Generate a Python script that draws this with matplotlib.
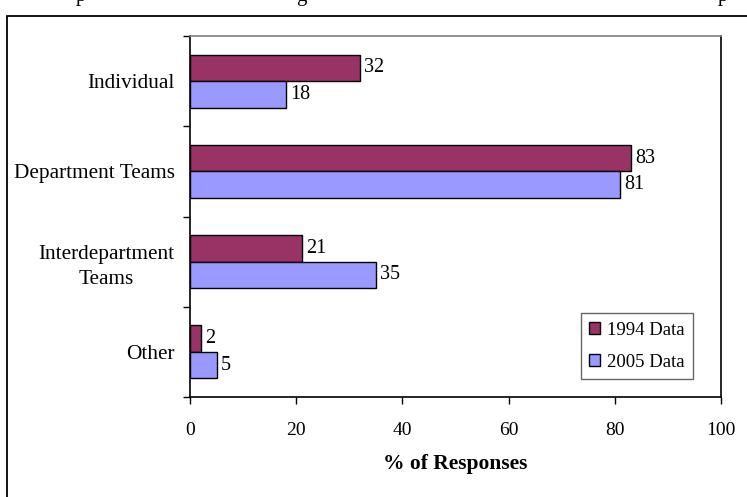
import numpy as np
import matplotlib
matplotlib.use('Agg')
import matplotlib.pyplot as plt
from matplotlib.patches import Rectangle

# данные с картинки
categories = ['Individual', 'Department Teams', 'Interdepartment\nTeams', 'Other']
data_1994 = [32, 83, 21, 2]
data_2005 = [18, 81, 35, 5]
series_names = ['1994 Data', '2005 Data']
x_ticks = [0, 20, 40, 60, 80, 100]

plt.rcParams['font.family'] = ['Liberation Serif', 'DejaVu Serif']

W, H = 747, 497
fig = plt.figure(figsize=(W / 100, H / 100), dpi=100)

# внешняя рамка (уходит за правый и нижний край)
fig.patches.append(Rectangle((7 / W, -0.1), 1.2, 1 - 16 / H + 0.1, transform=fig.transFigure,
                             fill=False, edgecolor='black', linewidth=1.3))

# обрезанная строка подписи сверху
for xp, ch in [(76, 'p'), (296, 'g'), (718, 'p')]:
    fig.text(xp / W, 1 - 1 / H, ch, fontsize=15, va='baseline')

ax = fig.add_axes([190 / W, 1 - 397 / H, (721 - 190) / W, (397 - 36) / H])

y = np.arange(len(categories))
h = 0.293
b1 = ax.barh(y - h / 2, data_1994, height=h, color='#993366', edgecolor='black', linewidth=1,
             label=series_names[0])
b2 = ax.barh(y + h / 2, data_2005, height=h, color='#9999FF', edgecolor='black', linewidth=1,
             label=series_names[1])
ax.bar_label(b1, padding=3, fontsize=14.5)
ax.bar_label(b2, padding=3, fontsize=14.5)

ax.set_xlim(0, 100)
ax.set_ylim(len(categories) - 0.5, -0.5)
ax.set_xticks(x_ticks)
ax.set_xticklabels([str(v) for v in x_ticks], fontsize=14)
ax.tick_params(axis='x', direction='out', length=5, width=1, pad=13)

ax.set_yticks(np.arange(len(categories) + 1) - 0.5)
ax.set_yticklabels([])
ax.tick_params(axis='y', which='major', direction='out', length=5, width=1)
ax.set_yticks(y, minor=True)
ax.set_yticklabels(categories, minor=True, fontsize=15.3)
ax.tick_params(axis='y', which='minor', length=0, pad=11)
for lab in ax.get_yticklabels(minor=True):
    lab.set_multialignment('center')
    lab.set_linespacing(1.45)

ax.set_xlabel('% of Responses', fontsize=15.5, fontweight='bold', labelpad=11)

ax.spines['top'].set_color('#808080')
for s in ['left', 'bottom', 'right']:
    ax.spines[s].set_color('black')
for s in ax.spines.values():
    s.set_linewidth(1.2)

leg = ax.legend(loc='lower right', bbox_to_anchor=((693 - 190) / (721 - 190), (397 - 379) / (397 - 36)),
                fontsize=13.5, frameon=True, fancybox=False, handlelength=0.6, handleheight=0.6,
                handletextpad=0.35, borderpad=0.45, labelspacing=0.8, borderaxespad=0)
leg.get_frame().set_edgecolor('#404040')
leg.get_frame().set_linewidth(1)

fig.savefig('out.png', dpi=100)
